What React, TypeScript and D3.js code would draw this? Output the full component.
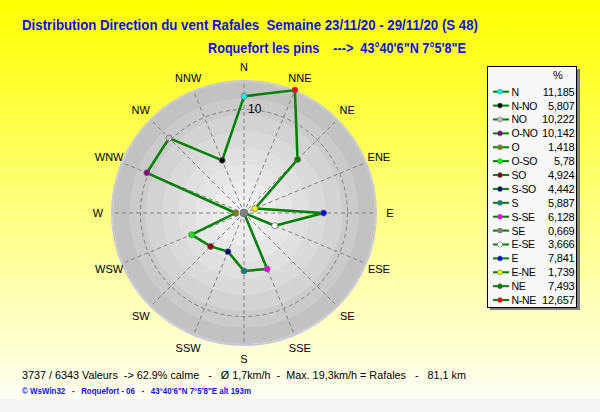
import React from "react";
import * as d3 from "d3";

const legendNames = ["N", "N-NO", "NO", "O-NO", "O", "O-SO", "SO", "S-SO", "S", "S-SE", "SE", "E-SE", "E", "E-NE", "NE", "N-NE"];
const legendValues = [11.185, 5.807, 10.222, 10.142, 1.418, 5.78, 4.924, 4.442, 5.887, 6.128, 0.669, 3.666, 7.841, 1.739, 7.493, 12.657];
const legendColors = ["#00ffff", "#000000", "#c0c0c0", "#800080", "#808000", "#00ff00", "#800000", "#000080", "#008080", "#ff00ff", "#808080", "#ffffff", "#0000ff", "#ffff00", "#008000", "#ff0000"];
const axisLabels = ["N", "NNE", "NE", "ENE", "E", "ESE", "SE", "SSE", "S", "SSW", "SW", "WSW", "W", "WNW", "NW", "NNW"];
const radialTicks = [10];

const titleText = "Distribution Direction du vent Rafales  Semaine 23/11/20 - 29/11/20 (S 48)";
const subTitle = "Roquefort les pins    --->  43°40'6\"N 7°5'8\"E";
const statsText = "3737 / 6343 Valeurs  -> 62.9% calme   -   Ø 1,7km/h  -  Max. 19,3km/h = Rafales   -   81,1 km";
const footerText = "© WsWin32   -   Roquefort - 06   -   43°40'6\"N 7°5'8\"E alt 193m";

const W = 600, H = 412;
const cx = 244, cy = 213;
const discR = 131;
const bandColors = ["#f1f1f1", "#ececec", "#e6e6e6", "#e0e0e0", "#dadada", "#d3d3d3", "#cbcbcb", "#c2c2c2"];

export default function App() {
  const r = d3.scaleLinear().domain([d3.min(legendValues)!, d3.max(legendValues)!]).range([0, 133]);
  const pts = legendNames.map((n, i) => ({
    name: n,
    value: legendValues[i],
    color: legendColors[i],
    angle: ((360 - i * 22.5) % 360) * Math.PI / 180,
  })).sort((a, b) => a.angle - b.angle);
  const line = d3.lineRadial<any>().angle(d => d.angle).radius(d => r(d.value)).curve(d3.curveLinearClosed);
  const bands = d3.range(8, 0, -1);
  const font = "'Liberation Sans', Arial, sans-serif";
  return (
    <svg width={W} height={H} style={{ position: "absolute", left: 0, top: 0, fontFamily: font }}>
      <defs>
        <linearGradient id="bg" x1="0" y1="0" x2="0" y2="1">
          <stop offset="0" stopColor="#ffff00" />
          <stop offset="1" stopColor="#fffff4" />
        </linearGradient>
      </defs>
      <rect x={0} y={0} width={W} height={399} fill="url(#bg)" />
      <rect x={0} y={399} width={W} height={H - 399} fill="#f4f4f4" />
      <text x={22} y={25} dominantBaseline="central" fontFamily="'Liberation Sans Narrow', 'Arial Narrow', sans-serif" fontWeight="bold" fontSize={14} fill="#1010e8" textLength={456} lengthAdjust="spacingAndGlyphs" style={{ whiteSpace: "pre" }}>{titleText}</text>
      <text x={208} y={48} dominantBaseline="central" fontFamily="'Liberation Sans Narrow', 'Arial Narrow', sans-serif" fontWeight="bold" fontSize={14} fill="#1010e8" textLength={258} lengthAdjust="spacingAndGlyphs" style={{ whiteSpace: "pre" }}>{subTitle}</text>

      <g transform={`translate(${cx},${cy})`}>
        <circle r={discR + 1} fill="none" stroke="#c8c8dc" strokeWidth={2} />
        {bands.map((k) => (
          <circle key={k} r={discR * k / 8} fill={bandColors[k - 1]} />
        ))}
        {radialTicks.map(t => (
          <circle key={t} r={r(t)} fill="none" stroke="#808080" strokeDasharray="4,3" strokeWidth={1} />
        ))}
        {axisLabels.map((l, i) => {
          const a = i * 22.5 * Math.PI / 180;
          return (
            <line key={"s" + i} x1={6 * Math.sin(a)} y1={-6 * Math.cos(a)} x2={discR * Math.sin(a)} y2={-discR * Math.cos(a)} stroke="#808080" strokeDasharray="4,3" strokeWidth={1} />
          );
        })}
        {radialTicks.map(t => (
          <text key={"t" + t} x={4} y={-r(t)} dominantBaseline="central" fontSize={12} fill="#000">{t}</text>
        ))}
        <path d={line(pts)!} fill="none" stroke="#008000" strokeWidth={2.5} strokeLinejoin="round" />
        {pts.map(p => {
          const rr = r(p.value);
          return (
            <circle key={p.name} cx={rr * Math.sin(p.angle)} cy={-rr * Math.cos(p.angle)} r={p.value < 1 ? 4 : 3} fill={p.color} stroke="#707070" strokeWidth={0.8} />
          );
        })}
        {axisLabels.map((l, i) => {
          const a = i * 22.5 * Math.PI / 180;
          const R = 146;
          return (
            <text key={"l" + i} x={R * Math.sin(a)} y={-R * Math.cos(a)} textAnchor="middle" dominantBaseline="central" fontSize={11} fill="#000">{l}</text>
          );
        })}
      </g>

      <g>
        <rect x={490} y={69} width={90} height={241} fill="#808080" />
        <rect x={487.5} y={66.5} width={89} height={241} fill="#f8f8f8" stroke="#000" strokeWidth={1} />
        <text x={558} y={75} textAnchor="middle" dominantBaseline="central" fontSize={11}>%</text>
        {legendNames.map((n, i) => {
          const y = 91.7 + i * 13.89;
          return (
            <g key={n}>
              <line x1={493} x2={509} y1={y} y2={y} stroke="#008000" strokeWidth={2} />
              <circle cx={500} cy={y} r={2.5} fill={legendColors[i]} stroke="#707070" strokeWidth={0.6} />
              <text x={511.5} y={y} dominantBaseline="central" fontSize={10.5} letterSpacing={-0.3} fill="#000">{n}</text>
              <text x={574.5} y={y} textAnchor="end" dominantBaseline="central" fontSize={11} letterSpacing={-0.2} fill="#000">{String(legendValues[i]).replace(".", ",")}</text>
            </g>
          );
        })}
      </g>

      <text x={22} y={375} dominantBaseline="central" fontSize={11} fill="#000" textLength={444} lengthAdjust="spacingAndGlyphs" style={{ whiteSpace: "pre" }}>{statsText}</text>
      <text x={22} y={391} dominantBaseline="central" fontSize={8.5} fontWeight="bold" fill="#1010e8" textLength={229} lengthAdjust="spacingAndGlyphs" style={{ whiteSpace: "pre" }}>{footerText}</text>
    </svg>
  );
}
